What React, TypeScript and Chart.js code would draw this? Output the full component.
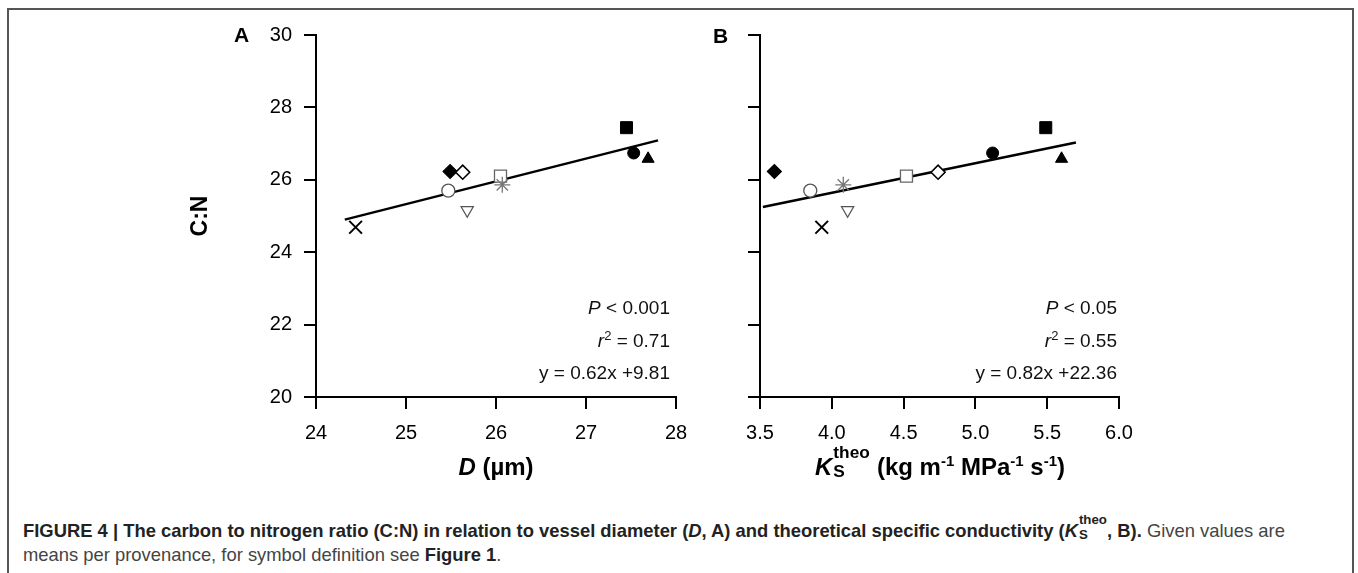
import React, { useEffect, useRef } from "react";
import { Chart, registerables } from "chart.js";

Chart.register(...registerables);

// ---- data ----
const symbols = [
  "cross",
  "diamondFilled",
  "diamondOpen",
  "circleOpen",
  "triangleDownOpen",
  "squareOpen",
  "star",
  "squareFilled",
  "circleFilled",
  "triangleFilled",
];
const cnValues = [24.69, 26.23, 26.21, 25.7, 25.16, 26.1, 25.86, 27.44, 26.74, 26.58];
const diameterValues = [24.44, 25.49, 25.63, 25.47, 25.68, 26.05, 26.07, 27.45, 27.53, 27.69];
const ksTheoValues = [3.93, 3.6, 4.74, 3.85, 4.11, 4.52, 4.08, 5.49, 5.12, 5.6];

const fitAX = [24.32, 27.8];
const fitAY = [24.9, 27.09];
const fitBX = [3.52, 5.7];
const fitBY = [25.25, 27.03];

const yTicks = [20, 22, 24, 26, 28, 30];
const xTicksA = [24, 25, 26, 27, 28];
const xTicksB = [3.5, 4.0, 4.5, 5.0, 5.5, 6.0];

const statsA = ["0.001", "0.71", "y = 0.62x +9.81"];
const statsB = ["0.05", "0.55", "y = 0.82x +22.36"];

// ---- styles ----
const FONT = "'Liberation Sans', Arial, Helvetica, sans-serif";
type MS = { style: string; r: number; bg: string; bc: string; bw: number; rot: number };
const markerStyles: Record<string, MS> = {
  cross: { style: "crossRot", r: 9, bg: "#000", bc: "#000", bw: 2, rot: 0 },
  diamondFilled: { style: "rectRot", r: 7, bg: "#000", bc: "#000", bw: 1.2, rot: 0 },
  diamondOpen: { style: "rectRot", r: 7, bg: "#fff", bc: "#000", bw: 1.6, rot: 0 },
  circleOpen: { style: "circle", r: 6.5, bg: "#fff", bc: "#555", bw: 1.3, rot: 0 },
  triangleDownOpen: { style: "triangle", r: 7, bg: "#fff", bc: "#555", bw: 1.3, rot: 180 },
  squareOpen: { style: "rect", r: 8.5, bg: "#fff", bc: "#666", bw: 1.3, rot: 0 },
  star: { style: "star", r: 8, bg: "#777", bc: "#777", bw: 1.3, rot: 0 },
  squareFilled: { style: "rect", r: 8.5, bg: "#000", bc: "#000", bw: 1, rot: 0 },
  circleFilled: { style: "circle", r: 6, bg: "#000", bc: "#000", bw: 1, rot: 0 },
  triangleFilled: { style: "triangle", r: 7, bg: "#000", bc: "#000", bw: 1, rot: 0 },
};

function makeChart(
  canvas: HTMLCanvasElement,
  xs: number[],
  fitX: number[],
  fitY: number[],
  xTicks: number[],
  fmt: (v: number) => string,
  yAxisWidth: number,
  padRight: number,
  showYLabels: boolean
) {
  const ms = symbols.map((s) => markerStyles[s]);
  return new Chart(canvas, {
    type: "scatter",
    data: {
      datasets: [
        {
          data: xs.map((x, i) => ({ x, y: cnValues[i] })),
          pointStyle: ms.map((m) => m.style) as any,
          pointRadius: ms.map((m) => m.r),
          pointBackgroundColor: ms.map((m) => m.bg),
          pointBorderColor: ms.map((m) => m.bc),
          pointBorderWidth: ms.map((m) => m.bw),
          pointRotation: ms.map((m) => m.rot),
          showLine: false,
          order: 0,
          clip: false as any,
        },
        {
          data: fitX.map((x, i) => ({ x, y: fitY[i] })),
          showLine: true,
          borderColor: "#000",
          borderWidth: 2.5,
          pointRadius: 0,
          order: 1,
        },
      ],
    },
    options: {
      animation: false,
      responsive: false,
      events: [],
      layout: { padding: { top: 35, right: padRight, left: 0, bottom: 0 } },
      plugins: { legend: { display: false }, tooltip: { enabled: false } },
      scales: {
        x: {
          type: "linear",
          min: xTicks[0],
          max: xTicks[xTicks.length - 1],
          afterBuildTicks: (s: any) => {
            s.ticks = xTicks.map((v) => ({ value: v }));
          },
          afterFit: (s: any) => {
            s.height = 83;
          },
          ticks: {
            color: "#000",
            font: { family: FONT, size: 20 },
            padding: 12,
            maxRotation: 0,
            autoSkip: false,
            callback: (v: any) => fmt(Number(v)),
          },
          grid: { drawOnChartArea: false, drawTicks: true, tickLength: 12, color: "#000", lineWidth: 2 },
          border: { display: true, color: "#000", width: 2 },
        },
        y: {
          type: "linear",
          min: yTicks[0],
          max: yTicks[yTicks.length - 1],
          afterBuildTicks: (s: any) => {
            s.ticks = yTicks.map((v) => ({ value: v }));
          },
          afterFit: (s: any) => {
            s.width = yAxisWidth;
          },
          ticks: {
            display: showYLabels,
            color: "#000",
            font: { family: FONT, size: 20 },
            padding: 12,
            callback: (v: any) => String(v),
          },
          title: {
            display: showYLabels,
            text: "C:N",
            color: "#000",
            font: { family: FONT, size: 23, weight: "bold" },
            padding: { top: 17, bottom: 0 },
          },
          grid: { drawOnChartArea: false, drawTicks: true, tickLength: 12, color: "#000", lineWidth: 2 },
          border: { display: true, color: "#000", width: 2 },
        },
      },
    } as any,
  });
}

const Stats: React.FC<{ right: number; vals: string[]; pWord: string }> = ({ right, vals, pWord }) => (
  <div
    style={{
      position: "absolute",
      left: right - 300,
      width: 300,
      top: 292,
      textAlign: "right",
      fontSize: 19,
      lineHeight: "32.5px",
      color: "#111",
    }}
  >
    <div>
      <i>P</i> {pWord} {vals[0]}
    </div>
    <div>
      <i>r</i>
      <span style={{ fontSize: 13, verticalAlign: "7px", lineHeight: 0 }}>2</span> = {vals[1]}
    </div>
    <div>{vals[2]}</div>
  </div>
);

const KsTheo: React.FC<{ size: number }> = ({ size }) => (
  <>
    <i>K</i>
    <span style={{ position: "relative", display: "inline-block", width: size * 1.58, height: size * 0.7 }}>
      <span style={{ position: "absolute", left: 1, top: -size * 0.6, fontSize: size * 0.72, lineHeight: 1 }}>theo</span>
      <span style={{ position: "absolute", left: 1, top: size * 0.22, fontSize: size * 0.72, lineHeight: 1 }}>S</span>
    </span>
  </>
);

export default function App() {
  const refA = useRef<HTMLCanvasElement>(null);
  const refB = useRef<HTMLCanvasElement>(null);

  useEffect(() => {
    const a = makeChart(refA.current!, diameterValues, fitAX, fitAY, xTicksA, (v) => String(v), 146, 24, true);
    const b = makeChart(refB.current!, ksTheoValues, fitBX, fitBY, xTicksB, (v) => v.toFixed(1), 60, 31, false);
    return () => {
      a.destroy();
      b.destroy();
    };
  }, []);

  const supStyle: React.CSSProperties = { fontSize: 15, verticalAlign: "9px", lineHeight: 0 };

  return (
    <div
      style={{
        position: "absolute",
        left: 0,
        top: 0,
        width: 1358,
        height: 573,
        overflow: "hidden",
        background: "#fff",
        fontFamily: FONT,
        color: "#000",
      }}
    >
      {/* frame */}
      <div
        style={{
          position: "absolute",
          left: 7,
          top: 8,
          width: 1347,
          height: 600,
          borderLeft: "2px solid #555",
          borderTop: "2px solid #555",
          borderRight: "2px solid #555",
          boxSizing: "border-box",
        }}
      />
      <canvas ref={refA} width={530} height={480} style={{ position: "absolute", left: 170, top: 0, width: 530, height: 480 }} />
      <canvas ref={refB} width={450} height={480} style={{ position: "absolute", left: 700, top: 0, width: 450, height: 480 }} />

      {/* panel letters */}
      <div style={{ position: "absolute", left: 234, top: 23, fontSize: 21, fontWeight: "bold", lineHeight: "24px" }}>A</div>
      <div style={{ position: "absolute", left: 713, top: 24, fontSize: 21, fontWeight: "bold", lineHeight: "24px" }}>B</div>

      <Stats right={670} vals={statsA} pWord="<" />
      <Stats right={1117} vals={statsB} pWord="<" />

      {/* x axis titles */}
      <div
        style={{
          position: "absolute",
          left: 296,
          width: 400,
          top: 452,
          textAlign: "center",
          fontSize: 24,
          fontWeight: "bold",
          lineHeight: "30px",
        }}
      >
        <i>D</i> (µm)
      </div>
      <div
        style={{
          position: "absolute",
          left: 690,
          width: 500,
          top: 452,
          textAlign: "center",
          fontSize: 24,
          fontWeight: "bold",
          lineHeight: "30px",
        }}
      >
        <KsTheo size={24} /> (kg m<span style={supStyle}>-1</span> MPa<span style={supStyle}>-1</span> s
        <span style={supStyle}>-1</span>)
      </div>

      {/* caption */}
      <div
        style={{
          position: "absolute",
          left: 23,
          top: 519,
          fontSize: 18.4,
          lineHeight: "24px",
          color: "#444",
          whiteSpace: "nowrap",
        }}
      >
        <div>
          <b style={{ color: "#222" }}>
            FIGURE 4 | The carbon to nitrogen ratio (C:N) in relation to vessel diameter (<i>D</i>, A) and theoretical
            specific conductivity (<KsTheo size={18.4} />, B).
          </b>{" "}
          Given values are
        </div>
        <div>
          means per provenance, for symbol definition see <b style={{ color: "#222" }}>Figure 1</b>.
        </div>
      </div>
    </div>
  );
}
